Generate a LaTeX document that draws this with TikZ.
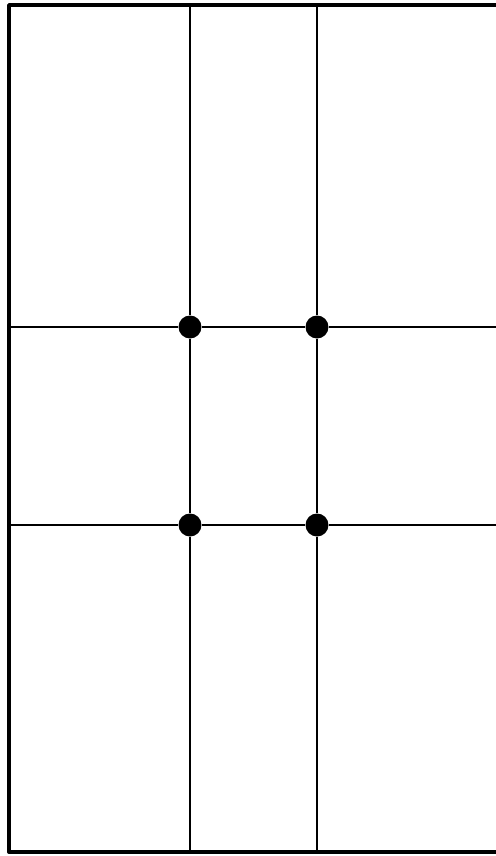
\documentclass[tikz,border=0pt]{standalone}
\usepackage{tikz}
\usetikzlibrary{positioning}
\tikzset{
  frame/.style={line width=2.2pt,black,line cap=round,line join=round},
  gridline/.style={line width=1.6pt,black},
  knot/.style={circle,fill=black,inner sep=0pt,minimum size=0.46cm}
}

\begin{document}
\begin{tikzpicture}[x=0.02cm,y=-0.02cm]
      \useasboundingbox (0,0) rectangle (495,856);
      % outer edges
      \coordinate (tl) at (9,5);
      \coordinate (tr) at (497,5);
      \coordinate (bl) at (9,852);
      \coordinate (br) at (497,852);
      \draw[frame] (tr) -- (tl) -- (bl) -- (br);
      % ends of the inner lines
      \coordinate (v1top) at (190,5);
      \coordinate (v1bot) at (190,852);
      \coordinate (v2top) at (317,5);
      \coordinate (v2bot) at (317,852);
      \coordinate (h1left) at (9,327);
      \coordinate (h1right) at (497,327);
      \coordinate (h2left) at (9,525);
      \coordinate (h2right) at (497,525);
      % crossing points
      \node[knot] (k11) at (190,327) {};
      \node[knot] (k12) at (317,327) {};
      \node[knot] (k21) at (190,525) {};
      \node[knot] (k22) at (317,525) {};
      \draw[gridline] (v1top) -- (k11) -- (k21) -- (v1bot);
      \draw[gridline] (v2top) -- (k12) -- (k22) -- (v2bot);
      \draw[gridline] (h1left) -- (k11) -- (k12) -- (h1right);
      \draw[gridline] (h2left) -- (k21) -- (k22) -- (h2right);
    \end{tikzpicture}
\end{document}
